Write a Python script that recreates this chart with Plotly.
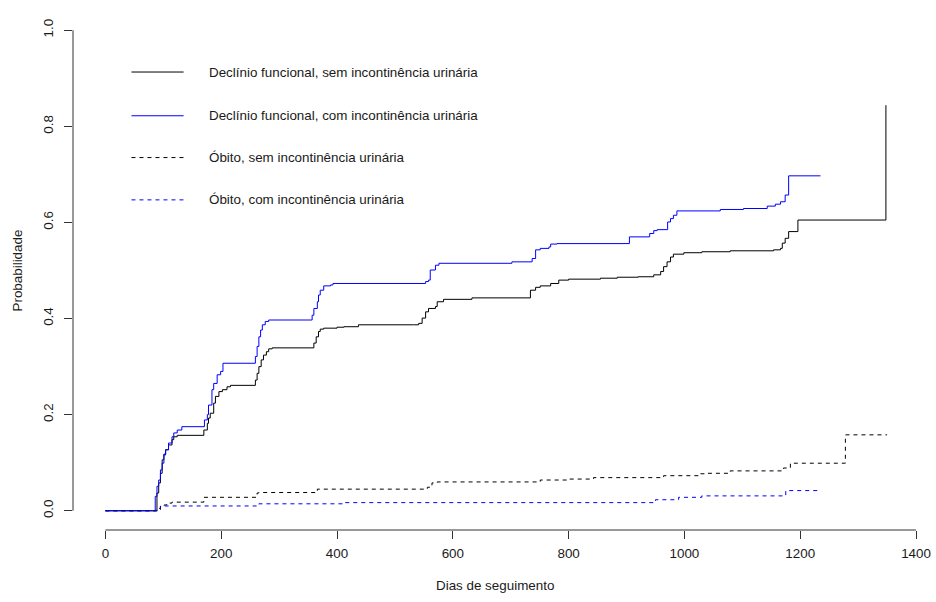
import plotly.graph_objects as go

# Cumulative incidence curves (competing risks), follow-up in days
dias_decl_sem = [0, 82, 89, 92, 95, 98, 101, 104, 109, 115, 118, 124, 170, 176, 178, 181, 187, 190,
                 196, 202, 210, 216, 259, 262, 265, 269, 273, 278, 282, 288, 360, 364, 368, 371,
                 377, 400, 412, 437, 532, 541, 547, 553, 558, 570, 573, 584, 633, 734, 743, 751,
                 769, 783, 800, 855, 884, 920, 947, 959, 964, 970, 976, 981, 999, 1030, 1079,
                 1154, 1166, 1169, 1174, 1180, 1196, 1348]
prob_decl_sem = [0, 0, 0.037, 0.058, 0.078, 0.106, 0.118, 0.127, 0.137, 0.148, 0.154, 0.157, 0.168,
                 0.182, 0.193, 0.203, 0.224, 0.238, 0.248, 0.252, 0.258, 0.261, 0.272, 0.286, 0.300,
                 0.314, 0.324, 0.331, 0.337, 0.339, 0.349, 0.362, 0.373, 0.378, 0.380, 0.382, 0.383,
                 0.387, 0.387, 0.390, 0.401, 0.414, 0.421, 0.425, 0.435, 0.440, 0.443, 0.459, 0.465,
                 0.468, 0.473, 0.480, 0.482, 0.484, 0.486, 0.487, 0.491, 0.498, 0.508, 0.518, 0.528,
                 0.534, 0.537, 0.539, 0.541, 0.543, 0.546, 0.557, 0.567, 0.581, 0.605, 0.844]

dias_decl_com = [0, 81, 86, 89, 92, 95, 98, 101, 104, 109, 115, 118, 124, 132, 171, 176, 178, 184,
                 187, 193, 199, 203, 259, 262, 265, 268, 271, 276, 282, 357, 360, 366, 368, 371,
                 377, 389, 393, 553, 558, 561, 570, 576, 702, 737, 743, 751, 766, 769, 780, 905,
                 940, 947, 953, 971, 976, 981, 987, 1062, 1102, 1143, 1157, 1166, 1174, 1180, 1235]
prob_decl_com = [0, 0, 0.030, 0.051, 0.064, 0.085, 0.099, 0.116, 0.127, 0.141, 0.154, 0.162, 0.168,
                 0.175, 0.189, 0.200, 0.220, 0.252, 0.265, 0.283, 0.290, 0.307, 0.321, 0.342, 0.362,
                 0.376, 0.387, 0.394, 0.397, 0.407, 0.421, 0.435, 0.449, 0.459, 0.468, 0.470, 0.473,
                 0.477, 0.480, 0.501, 0.511, 0.515, 0.518, 0.525, 0.543, 0.546, 0.549, 0.555, 0.556,
                 0.570, 0.577, 0.583, 0.585, 0.601, 0.608, 0.615, 0.624, 0.627, 0.629, 0.634, 0.638,
                 0.643, 0.657, 0.697, 0.697]

dias_obito_sem = [0, 84, 95, 101, 106, 115, 170, 262, 265, 366, 556, 564, 573, 751, 797, 843, 964,
                  1028, 1039, 1079, 1171, 1183, 1278, 1350]
prob_obito_sem = [0, 0, 0.009, 0.012, 0.016, 0.018, 0.028, 0.037, 0.038, 0.045, 0.049, 0.058,
                  0.060, 0.064, 0.066, 0.069, 0.073, 0.077, 0.078, 0.083, 0.089, 0.099, 0.158, 0.158]

dias_obito_com = [0, 84, 88, 95, 265, 414, 950, 990, 1030, 1175, 1235]
prob_obito_com = [0, 0, 0.005, 0.010, 0.0145, 0.017, 0.023, 0.028, 0.031, 0.042, 0.042]

rotulos = ["Declínio funcional, sem incontinência urinária",
           "Declínio funcional, com incontinência urinária",
           "Óbito, sem incontinência urinária",
           "Óbito, com incontinência urinária"]

x_ticks = [0, 200, 400, 600, 800, 1000, 1200, 1400]
y_ticks = [0.0, 0.2, 0.4, 0.6, 0.8, 1.0]
y_ticklabels = ["0.0", "0.2", "0.4", "0.6", "0.8", "1.0"]

FONT = "Liberation Sans, Arial, sans-serif"
FS = 13.4
TXT = "#1a1a1a"

# plot region in pixels
L, R, T, B = 73, 8, 11, 72
W = 936 - L - R
X_RANGE = [-56, -56 + W / 0.579]

series = [
    (dias_decl_sem, prob_decl_sem, "black", "solid"),
    (dias_decl_com, prob_decl_com, "blue", "solid"),
    (dias_obito_sem, prob_obito_sem, "black", "4px,4px"),
    (dias_obito_com, prob_obito_com, "blue", "4px,4px"),
]

fig = go.Figure()
for (x, y, cor, traco), nome in zip(series, rotulos):
    fig.add_trace(go.Scatter(x=x, y=y, mode="lines", name=nome,
                             line=dict(color=cor, width=1, dash=traco, shape="hv"),
                             showlegend=False, hoverinfo="skip"))

# Axis lines spanning only first to last tick
fig.add_shape(type="line", xref="x", yref="paper", x0=x_ticks[0], x1=x_ticks[-1], y0=0, y1=0,
              line=dict(color="#333333", width=1))
fig.add_shape(type="line", xref="paper", yref="y", x0=0, x1=0, y0=y_ticks[0], y1=y_ticks[-1],
              line=dict(color="#333333", width=1))

# Hand-placed legend contents
leg_y = [0.913, 0.822, 0.735, 0.647]
for (x, y, cor, traco), nome, ly in zip(series, rotulos, leg_y):
    fig.add_shape(type="line", xref="x", yref="y", x0=45, x1=135, y0=ly, y1=ly,
                  line=dict(color=cor, width=1, dash=traco))
    fig.add_annotation(x=175, y=ly, xref="x", yref="y", text=nome, showarrow=False,
                       xanchor="left", yanchor="middle",
                       font=dict(family=FONT, size=FS, color=TXT))

# Axis titles
fig.add_annotation(x=(495 - L) / W, y=-(585 - 530) / 519, xref="paper", yref="paper",
                   text="Dias de seguimento", showarrow=False, xanchor="center", yanchor="middle",
                   font=dict(family=FONT, size=FS, color=TXT))
fig.add_annotation(x=-(L - 17) / W, y=0.5, xref="paper", yref="paper", text="Probabilidade",
                   showarrow=False, textangle=-90, xanchor="center", yanchor="middle",
                   font=dict(family=FONT, size=FS, color=TXT))

fig.update_layout(
    width=936, height=602,
    margin=dict(l=L, r=R, t=T, b=B, pad=0, autoexpand=False),
    paper_bgcolor="white", plot_bgcolor="white",
    font=dict(family=FONT, size=FS, color=TXT),
    xaxis=dict(range=X_RANGE, tickvals=x_ticks, ticktext=[str(v) for v in x_ticks],
               showgrid=False, zeroline=False, showline=False, automargin=False,
               ticks="outside", ticklen=8, tickcolor="#333333", tickwidth=1,
               ticklabelstandoff=3,
               tickfont=dict(family=FONT, size=FS, color=TXT)),
    yaxis=dict(range=[-0.04, 1.04], tickvals=y_ticks, ticktext=y_ticklabels,
               showgrid=False, zeroline=False, showline=False, automargin=False,
               ticks="outside", ticklen=8, tickcolor="#333333", tickwidth=1, tickangle=-90,
               ticklabelstandoff=6,
               tickfont=dict(family=FONT, size=FS, color=TXT)),
)

fig.write_html("out.html")
